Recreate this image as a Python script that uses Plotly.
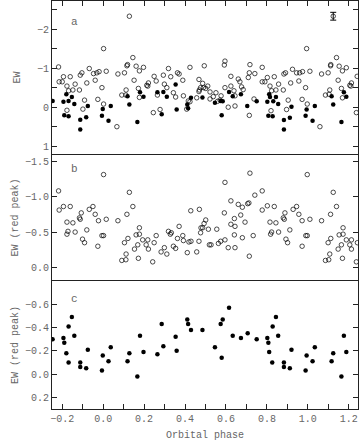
import plotly.graph_objects as go

# ---------------- data ----------------
# Panel a: EW, open circles
a_open_phase = [-0.218, -0.215, -0.200, -0.194, -0.177, -0.169, -0.161, -0.148, -0.137, -0.177,
                -0.116, -0.112, -0.104, -0.099, -0.091, -0.080, -0.068, -0.047, -0.039, -0.031,
                -0.020, -0.026, -0.006, 0.002, 0.002, 0.015, 0.067, 0.072, 0.091, 0.104,
                0.111, 0.112, 0.116, 0.119, 0.128, 0.145, 0.151, 0.161, 0.172, 0.177,
                0.177, 0.197, 0.213, 0.221, 0.218, 0.245, 0.249, 0.259, 0.265, 0.278,
                0.294, 0.299, 0.311, 0.319, 0.330, 0.343, 0.354, 0.363, 0.371,
                0.389, 0.392, 0.424, 0.416, 0.424, 0.408, 0.457, 0.468, 0.470, 0.468,
                0.476, 0.486, 0.490, 0.494, 0.501, 0.511, 0.522, 0.522, 0.538, 0.551,
                0.559, 0.571, 0.576, 0.592, 0.595, 0.595, 0.611, 0.624, 0.624, 0.639,
                0.644, 0.644, 0.660, 0.668, 0.676, 0.684, 0.709, 0.714, 0.717, 0.714,
                0.737, 0.741, 0.777, 0.777, 0.790, 0.802, 0.815, 0.820, 0.823, 0.836,
                0.844, 0.857, 0.880, 0.883, 0.891, 0.896, 0.904, 0.916, 0.925, 0.945,
                0.956, 0.960, 0.974, 0.972, 0.989, 0.994, 0.997, 1.010, 1.059, 1.067,
                1.086, 1.099, 1.104, 1.107, 1.111, 1.112, 1.140, 1.148, 1.153, 1.164,
                1.169, 1.169, 1.188, 1.205, 1.213, 1.210, 1.237, 1.241]
a_open_ew = [-1.03, -0.65, -0.65, -0.78, -0.54, -0.42, -0.78, -0.44, -0.59, 0.08,
             -0.44, -0.82, -0.88, 0.05, -0.18, -0.62, -0.99, -0.86, -0.69, -0.88,
             -0.91, -0.20, -0.50, -1.50, -0.08, -0.92, 0.50, -0.85, -0.31, -0.88,
             -0.31, -0.44, -1.06, -1.09, -2.33, -1.27, -0.69, -1.05, -0.48, -0.93,
             -0.25, -1.02, -0.56, -0.62, -0.54, 0.14, -0.79, -0.67, -0.31, 0.06,
             -0.82, -0.59, -0.50, -0.99, -0.78, -0.37, -0.26, -0.88, -0.85,
             -0.69, -0.29, -1.02, -0.16, -0.14, 0.05, -0.24, -0.71, -0.44, -0.40,
             -0.50, -0.61, -0.50, -1.06, -0.48, -0.54, -0.39, -0.21, -0.27, -0.37,
             -0.15, -0.18, -0.29, -1.08, -1.18, -0.50, 0.00, -0.79, -0.54, -0.42,
             -0.29, -0.03, -0.72, -0.65, -0.52, -0.45, -0.76, -0.88, -1.09, 0.21,
             -0.21, -0.86, -1.02, -0.65, -0.65, -0.76, -0.54, 0.09, -0.42, -0.78,
             -0.44, -0.59, -0.44, -0.85, -0.88, 0.06, -0.18, -0.62, -0.97, -0.88,
             -0.67, -0.88, -0.91, -0.20, -0.50, -1.50, -0.08, -0.92, 0.50, -0.85,
             -0.31, -0.88, -0.33, -0.44, -1.06, -1.09, -1.27, -0.69, -1.05, -0.48,
             -0.93, -0.24, -1.01, -0.56, -0.62, -0.54, 0.14, -0.79]

# Panel a: EW, filled circles
a_fill_phase = [-0.247, -0.194, -0.190, -0.180, -0.169, -0.169, -0.153, -0.141, -0.112, -0.112,
                -0.083, -0.075, -0.006, -0.002, 0.026, 0.037, 0.119, 0.128, 0.167, 0.180,
                0.197, 0.265, 0.286, 0.294, 0.311, 0.354, 0.359,
                0.411, 0.415, 0.429, 0.485, 0.546, 0.574, 0.584, 0.579, 0.615, 0.633,
                0.673, 0.704, 0.750, 0.802, 0.807, 0.811, 0.815, 0.828, 0.831, 0.844,
                0.855, 0.883, 0.883, 0.912, 0.920, 0.989, 0.994, 1.023, 1.034, 1.116,
                1.124, 1.164, 1.176, 1.188]
a_fill_ew = [-0.16, -0.14, 0.21, -0.33, -0.16, 0.23, -0.26, -0.08, 0.32, 0.57,
             0.26, -0.03, 0.22, 0.05, 0.35, -0.03, -0.28, -0.07, 0.38, -0.38,
             -0.27, -0.38, 0.18, -0.39, -0.27, -0.58, 0.06,
             -0.07, 0.03, -0.24, -0.25, -0.11, -0.16, -0.15, 0.21, -0.39, -0.28,
             -0.33, -0.03, -0.15, -0.14, 0.22, -0.33, -0.26, 0.23, -0.15, -0.26,
             -0.08, 0.33, 0.57, 0.27, -0.01, 0.22, 0.06, 0.35, -0.03, -0.28,
             -0.07, 0.38, -0.38, -0.27]

# Representative error bar (panel a)
err_phase = [1.124]
err_ew = [-2.33]
err_size = [0.10]

# Panel b: EW (red peak), open circles
b_phase = [-0.218, -0.215, -0.194, -0.177, -0.172, -0.177, -0.161, -0.148, -0.137, -0.116,
           -0.112, -0.107, -0.101, -0.091, -0.080, -0.068, -0.050, -0.039, -0.023, -0.026,
           -0.006, 0.002, 0.002, 0.015, 0.072, 0.091, 0.104, 0.111, 0.112, 0.116,
           0.121, 0.128, 0.145, 0.153, 0.161, 0.169, 0.172, 0.177, 0.177, 0.193,
           0.210, 0.218, 0.221, 0.242, 0.249, 0.259, 0.283, 0.299, 0.311, 0.319,
           0.328, 0.333, 0.343, 0.354, 0.363, 0.371,
           0.389, 0.392, 0.411, 0.419, 0.429, 0.428, 0.457, 0.468, 0.470, 0.476,
           0.478, 0.486, 0.493, 0.501, 0.514, 0.519, 0.527, 0.555, 0.563, 0.574,
           0.595, 0.592, 0.595, 0.611, 0.624, 0.624, 0.641, 0.644, 0.641, 0.644,
           0.660, 0.672, 0.680, 0.680, 0.693, 0.706, 0.712, 0.717, 0.714, 0.733,
           0.741, 0.777, 0.777, 0.802, 0.815, 0.823, 0.818, 0.836, 0.844, 0.857,
           0.880, 0.885, 0.888, 0.893, 0.901, 0.912, 0.928, 0.945, 0.956, 0.972,
           0.972, 0.990, 0.997, 0.997, 1.010, 1.067, 1.086, 1.099, 1.102, 1.107,
           1.111, 1.112, 1.124, 1.140, 1.148, 1.153, 1.164, 1.169, 1.172, 1.172,
           1.188, 1.205, 1.213, 1.213, 1.237, 1.242]
b_ew = [-1.08, -0.81, -0.86, -0.64, -0.51, -0.47, -0.86, -0.63, -0.50, -0.70,
        -0.68, -0.77, -0.40, -0.35, -0.53, -0.82, -0.86, -0.75, -0.66, -0.30,
        -0.45, -0.45, -1.31, -0.68, -0.66, -0.10, -0.35, -0.11, -0.19, -0.75,
        -0.41, -1.06, -0.86, -0.26, -0.46, -0.32, -0.13, -0.56, -0.47, -0.39,
        -0.32, -0.39, -0.26, -0.08, -0.35, -0.45, -0.22, -0.28, -0.19, -0.51,
        -0.47, -0.49, -0.30, -0.27, -0.41, -0.58,
        -0.45, -0.38, -0.21, -0.36, -0.37, -0.80, -0.22, -0.37, -0.82, -0.49,
        -0.56, -0.56, -0.62, -0.67, -0.54, -0.32, -0.32, -0.54, -0.34, -0.37,
        -0.39, -0.77, -1.20, -0.28, -0.94, -0.61, -0.69, -0.58, -0.46, -0.28,
        -0.89, -0.74, -0.85, -0.42, -0.64, -0.90, -0.91, -1.33, -0.16, -0.45,
        -1.02, -1.08, -0.81, -0.87, -0.64, -0.50, -0.47, -0.86, -0.63, -0.50,
        -0.70, -0.68, -0.77, -0.40, -0.35, -0.53, -0.82, -0.86, -0.75, -0.66,
        -0.30, -0.45, -0.45, -1.31, -0.68, -0.66, -0.10, -0.35, -0.11, -0.19,
        -0.75, -0.41, -1.06, -0.86, -0.26, -0.46, -0.32, -0.13, -0.56, -0.47,
        -0.39, -0.32, -0.39, -0.26, -0.08, -0.35]

# Panel c: EW (red peak), filled circles
c_phase = [-0.247, -0.194, -0.190, -0.180, -0.169, -0.169, -0.153, -0.141, -0.112, -0.112,
           -0.083, -0.075, -0.006, -0.002, 0.026, 0.037, 0.119, 0.128, 0.167, 0.180,
           0.197, 0.265, 0.286, 0.294, 0.354, 0.359,
           0.411, 0.415, 0.429, 0.485, 0.546, 0.574, 0.584, 0.579, 0.615, 0.633,
           0.673, 0.706, 0.750, 0.802, 0.807, 0.811, 0.828, 0.826, 0.844, 0.855,
           0.883, 0.883, 0.912, 0.920, 0.989, 0.994, 1.023, 1.034, 1.116, 1.124,
           1.164, 1.176, 1.188]
c_ew = [-0.30, -0.31, -0.27, -0.18, -0.41, -0.10, -0.49, -0.33, -0.10, -0.06,
        -0.05, -0.21, -0.03, -0.16, -0.11, -0.23, -0.11, -0.18, 0.02, -0.33,
        -0.19, -0.17, -0.43, -0.24, -0.32, -0.20,
        -0.47, -0.43, -0.38, -0.38, -0.23, -0.43, -0.47, -0.14, -0.57, -0.33,
        -0.31, -0.35, -0.30, -0.31, -0.27, -0.19, -0.41, -0.10, -0.49, -0.33,
        -0.10, -0.06, -0.05, -0.21, -0.03, -0.16, -0.11, -0.23, -0.11, -0.18,
        0.02, -0.33, -0.19]

# Tick values / labels
x_tickvals = [-0.2, -0.1, 0.0, 0.1, 0.2, 0.3, 0.4, 0.5, 0.6, 0.7, 0.8, 0.9, 1.0, 1.1, 1.2]
x_ticktext = ["\u22120.2", "", "0.0", "", "0.2", "", "0.4", "", "0.6", "", "0.8", "", "1.0", "", "1.2"]
a_tickvals = [-2.5, -2.0, -1.5, -1.0, -0.5, 0.0, 0.5, 1.0]
a_ticktext = ["", "\u22122", "", "\u22121", "", "0", "", "1"]
b_tickvals = [-1.5, -1.0, -0.5, 0.0]
b_ticktext = ["\u22121.5", "\u22121.0", "\u22120.5", "0.0"]
c_tickvals = [-0.6, -0.4, -0.2, 0.0, 0.2]
c_ticktext = ["\u22120.6", "\u22120.4", "\u22120.2", "0.0", "0.2"]

# ---------------- figure ----------------
FONT = "Liberation Mono, DejaVu Sans Mono, monospace"
TXT = "#666666"
LINE = "#222222"
open_marker = dict(symbol="circle-open", size=4.5, color="black", line=dict(width=0.7, color="black"))
fill_marker = dict(symbol="circle", size=4.5, color="black")

fig = go.Figure()
fig.add_trace(go.Scatter(x=a_open_phase, y=a_open_ew, mode="markers", marker=open_marker,
                         xaxis="x3", yaxis="y3", showlegend=False))
fig.add_trace(go.Scatter(x=a_fill_phase, y=a_fill_ew, mode="markers", marker=fill_marker,
                         xaxis="x3", yaxis="y3", showlegend=False))
fig.add_trace(go.Scatter(x=err_phase, y=err_ew, mode="markers", marker=open_marker,
                         error_y=dict(type="data", array=err_size, color="black", thickness=1, width=3),
                         xaxis="x3", yaxis="y3", showlegend=False))
fig.add_trace(go.Scatter(x=b_phase, y=b_ew, mode="markers", marker=open_marker,
                         xaxis="x2", yaxis="y2", showlegend=False))
fig.add_trace(go.Scatter(x=c_phase, y=c_ew, mode="markers", marker=fill_marker,
                         xaxis="x", yaxis="y", showlegend=False))

xr = [-0.25, 1.245]
tf = dict(family=FONT, size=10, color=TXT)
common_x = dict(range=xr, showgrid=False, zeroline=False, showline=True, linecolor=LINE,
                linewidth=1, mirror=True, tickvals=x_tickvals, ticklen=5, tickcolor=LINE,
                automargin=False)
common_y = dict(showgrid=False, zeroline=False, showline=True, linecolor=LINE, linewidth=1,
                mirror="ticks", ticks="inside", ticklen=5, tickcolor=LINE, tickfont=tf,
                automargin=False)

fig.update_layout(
    width=361, height=447,
    margin=dict(l=52, r=3, t=1, b=38),
    paper_bgcolor="white", plot_bgcolor="white",
    font=tf,
    xaxis=dict(common_x, anchor="y", domain=[0, 1], ticks="inside", ticktext=x_ticktext,
               tickfont=tf, title=dict(text="Orbital phase", standoff=6, font=tf)),
    xaxis2=dict(common_x, anchor="y2", matches="x", ticks="", showticklabels=False, showline=False),
    xaxis3=dict(common_x, anchor="y3", matches="x", side="top", ticks="inside", showticklabels=False),
    yaxis=dict(common_y, domain=[0, 0.3137], range=[0.3, -0.8], tickvals=c_tickvals, ticktext=c_ticktext,
               title=dict(text="EW (red peak)", standoff=4, font=tf)),
    yaxis2=dict(common_y, domain=[0.3137, 0.625], range=[0.19, -1.6], tickvals=b_tickvals, ticktext=b_ticktext,
                title=dict(text="EW (red peak)", standoff=4, font=tf)),
    yaxis3=dict(common_y, domain=[0.625, 1], range=[1.2, -2.72], tickvals=a_tickvals, ticktext=a_ticktext,
                title=dict(text="EW", standoff=14, font=tf)),
)

for letter, yref, yy in [("a", "y3 domain", 0.863), ("b", "y2 domain", 0.882), ("c", "y domain", 0.86)]:
    fig.add_annotation(text=letter, xref="x domain", yref=yref, x=0.072, y=yy, showarrow=False,
                       font=dict(family=FONT, size=11, color=TXT), xanchor="center", yanchor="middle")

fig.write_html("out.html", config={"displayModeBar": False},
               post_script="document.body.style.margin='0';document.body.style.overflow='hidden';")
